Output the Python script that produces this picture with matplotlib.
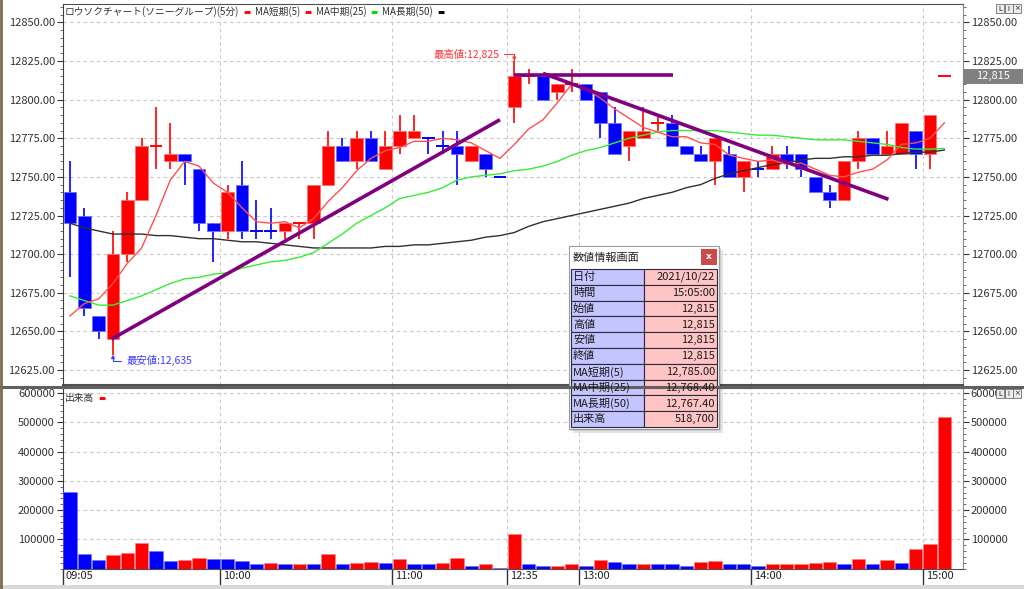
import numpy as np
import matplotlib
matplotlib.use('Agg')
import matplotlib.pyplot as plt
from matplotlib.patches import Rectangle
from matplotlib.ticker import MultipleLocator, FuncFormatter
import matplotlib.transforms as mtransforms

plt.rcParams['font.family'] = ['Noto Sans CJK JP', 'DejaVu Sans']

# ---------------- data ----------------
time_labels = ['09:05', '10:00', '11:00', '12:35', '13:00', '14:00', '15:00']
time_label_idx = [0, 11, 23, 31, 36, 48, 60]

opens = [12740, 12725, 12660, 12645, 12700, 12735, 12770, 12760, 12765, 12755,
         12720, 12715, 12745, 12715, 12715, 12715, 12720, 12720, 12745, 12770,
         12760, 12775, 12755, 12770, 12775, 12775, 12770, 12770, 12760, 12765,
         12750, 12795, 12815, 12815, 12805, 12810, 12810, 12805, 12785, 12770,
         12775, 12785, 12785, 12770, 12765, 12760, 12765, 12750, 12755, 12755,
         12765, 12765, 12750, 12740, 12735, 12760, 12775, 12765, 12765, 12780,
         12765, 12815]
highs = [12760, 12730, 12660, 12715, 12740, 12775, 12795, 12785, 12765, 12755,
         12720, 12745, 12760, 12735, 12730, 12720, 12720, 12745, 12780, 12775,
         12780, 12780, 12780, 12790, 12790, 12775, 12780, 12780, 12770, 12765,
         12750, 12825, 12820, 12815, 12810, 12820, 12810, 12805, 12795, 12780,
         12795, 12790, 12790, 12770, 12770, 12775, 12770, 12760, 12760, 12770,
         12770, 12765, 12750, 12745, 12760, 12780, 12775, 12780, 12785, 12780,
         12790, 12815]
lows = [12685, 12660, 12645, 12635, 12695, 12735, 12755, 12755, 12745, 12715,
        12695, 12710, 12710, 12710, 12710, 12710, 12710, 12710, 12745, 12760,
        12755, 12760, 12755, 12765, 12775, 12765, 12765, 12745, 12760, 12750,
        12750, 12785, 12810, 12800, 12800, 12805, 12800, 12775, 12765, 12760,
        12775, 12780, 12770, 12765, 12760, 12745, 12750, 12740, 12750, 12755,
        12755, 12750, 12740, 12730, 12735, 12755, 12765, 12765, 12765, 12755,
        12755, 12815]
closes = [12720, 12665, 12650, 12700, 12735, 12770, 12770, 12765, 12760, 12720,
          12715, 12740, 12715, 12715, 12715, 12720, 12720, 12745, 12770, 12760,
          12775, 12760, 12770, 12780, 12780, 12775, 12770, 12765, 12770, 12755,
          12750, 12815, 12815, 12800, 12810, 12810, 12800, 12785, 12765, 12780,
          12780, 12785, 12770, 12765, 12760, 12775, 12750, 12760, 12755, 12765,
          12760, 12755, 12740, 12735, 12760, 12775, 12765, 12770, 12785, 12765,
          12790, 12815]
doji_up_idx = [6, 16, 32, 35, 41, 61]

ma5 = [12660, 12668, 12671, 12681, 12694, 12704, 12725, 12748, 12760, 12757,
       12746, 12740, 12730, 12721, 12720, 12721, 12717, 12723, 12734, 12743,
       12754, 12762, 12767, 12769, 12773, 12773, 12775, 12774, 12772, 12767,
       12762, 12771, 12781, 12787, 12798, 12810, 12807, 12801, 12794, 12788,
       12782, 12779, 12776, 12776, 12772, 12771, 12764, 12762, 12760, 12761,
       12758, 12759, 12755, 12751, 12750, 12753, 12755, 12761, 12771, 12772,
       12775, 12785]
ma25 = [12673, 12670, 12667, 12667, 12670, 12673, 12677, 12681, 12684, 12685,
        12687, 12688, 12691, 12693, 12695, 12696, 12698, 12701, 12707, 12713,
        12720, 12725, 12730, 12736, 12738, 12740, 12743, 12748, 12750, 12751,
        12752, 12754, 12755, 12757, 12760, 12764, 12767, 12769, 12772, 12775,
        12777, 12779, 12780, 12780, 12780, 12780, 12779, 12778, 12777, 12777,
        12776, 12775, 12774, 12774, 12774, 12773, 12772, 12771, 12769, 12768,
        12768, 12768.4]
ma50 = [12720, 12717, 12715, 12713, 12713, 12713, 12712, 12712, 12711, 12710,
        12710, 12709, 12708, 12708, 12707, 12706, 12705, 12704, 12704, 12704,
        12704, 12704, 12705, 12705, 12706, 12706, 12707, 12708, 12709, 12711,
        12712, 12714, 12718, 12721, 12723, 12725, 12727, 12729, 12731, 12733,
        12736, 12738, 12740, 12743, 12745, 12749, 12752, 12754, 12756, 12758,
        12759, 12761, 12762, 12762, 12763, 12763, 12764, 12764, 12765, 12766,
        12766, 12767.4]

volumes = [262000, 49000, 28600, 45800, 51600, 87100, 60600, 27000, 27500, 36500,
           31500, 31000, 25000, 15800, 18200, 15500, 16000, 13800, 49200, 15800,
           18200, 21700, 18200, 33000, 15800, 13800, 18200, 35500, 9000, 13800,
           3000, 117000, 15800, 9000, 9500, 13800, 9000, 27500, 21700, 13800,
           15800, 15500, 13800, 9000, 21700, 25000, 15800, 15500, 9000, 13800,
           14000, 15800, 18200, 21700, 15800, 31000, 13800, 27500, 18200, 66400,
           84700, 518700]

trend_up_x = [2.9, 30.0]
trend_up_y = [12645, 12787]
resist_x = [31.0, 42.1]
resist_y = [12816, 12816]
trend_dn_x = [33.0, 57.1]
trend_dn_y = [12817, 12735.5]

legend_items = [('ロウソクチャート(ソニーグループ)(5分)', '#ff0000'),
                ('MA短期(5)', '#ff0000'),
                ('MA中期(25)', '#00dd00'),
                ('MA長期(50)', '#000000')]
vol_legend = [('出来高', '#ff0000')]

info_title = '数値情報画面'
info_labels = ['日付', '時間', '始値', '高値', '安値', '終値',
               'MA短期(5)', 'MA中期(25)', 'MA長期(50)', '出来高']
info_values = ['2021/10/22', '15:05:00', '12,815', '12,815', '12,815', '12,815',
               '12,785.00', '12,768.40', '12,767.40', '518,700']

high_idx, high_val, high_label = 31, 12825, '最高値:12,825'
low_idx, low_val, low_label = 3, 12635, '最安値:12,635'
last_price, last_price_label = 12815, '12,815'

# ---------------- figure ----------------
W, H = 1024, 589
fig = plt.figure(figsize=(W / 100, H / 100), dpi=100)
fig.patch.set_facecolor('white')


def fx(px):
    return px / W


def fy(py):
    return 1 - py / H


L, R = 62.5, 963
ax = fig.add_axes([fx(L), fy(385), fx(R) - fx(L), fy(4) - fy(385)])
axv = fig.add_axes([fx(L), fy(569), fx(R) - fx(L), fy(388) - fy(569)])

RED, BLUE = '#ff0000', '#0000ff'
o = np.array(opens, float)
h = np.array(highs, float)
lo = np.array(lows, float)
c = np.array(closes, float)
n = len(o)
x = np.arange(n)

cols = []
for i in range(n):
    if c[i] > o[i]:
        cols.append(RED)
    elif c[i] < o[i]:
        cols.append(BLUE)
    else:
        cols.append(RED if i in doji_up_idx else BLUE)
cols = np.array(cols)
edge = np.where(cols == RED, '#ff7070', '#7070ff')

XL = (-0.52, 62.3)
for a in (ax, axv):
    a.set_xlim(*XL)
    a.set_facecolor('white')

# grid
grid_kw = dict(color='#c8c8c8', lw=0.8, ls=(0, (3, 3)), zorder=0)
vpos = [i - 0.5 for i in time_label_idx]
for p in vpos[1:]:
    ax.axvline(p, **grid_kw)
    axv.axvline(p, **grid_kw)
for v in np.arange(12625, 12851, 25):
    ax.axhline(v, **grid_kw)
for v in np.arange(100000, 600001, 100000):
    axv.axhline(v, **grid_kw)

# candles
ax.vlines(x, lo, h, colors=cols, lw=1.2, zorder=2)
m = c != o
ax.bar(x[m], np.abs(c - o)[m], bottom=np.minimum(o, c)[m], width=0.88,
       color=cols[m], edgecolor=edge[m], lw=0.6, zorder=3)
d = ~m
ax.hlines(c[d], x[d] - 0.45, x[d] + 0.45, colors=cols[d], lw=1.4, zorder=3)

# moving averages
ax.plot(x, ma50, color='#303030', lw=1.0, zorder=4)
ax.plot(x, ma25, color='#33ee33', lw=1.0, zorder=4)
ax.plot(x, ma5, color='#ff5050', lw=1.0, zorder=4)

# trend lines
for tx, ty in ((trend_up_x, trend_up_y), (resist_x, resist_y), (trend_dn_x, trend_dn_y)):
    ax.plot(tx, ty, color='#800080', lw=2.6, solid_capstyle='butt', zorder=5)

ax.set_ylim(12615.3, 12861.9)
ax.set_yticks(np.arange(12625, 12851, 25))
ax.yaxis.set_minor_locator(MultipleLocator(5))
ax.yaxis.set_major_formatter(FuncFormatter(lambda v, p: f'{v:.2f}'))
ax.set_xticks([])

# annotations
ax.annotate(high_label, xy=(high_idx, high_val), xytext=(-11, 4.8),
            textcoords='offset points', ha='right', va='center', fontsize=7.5,
            color='#ff3333', zorder=6,
            arrowprops=dict(arrowstyle='-|>', color='#ff3333', lw=0.8,
                            mutation_scale=5, shrinkA=1.5, shrinkB=0,
                            relpos=(1, 0.5),
                            connectionstyle='angle,angleA=0,angleB=90,rad=0'))
ax.annotate(low_label, xy=(low_idx, low_val), xytext=(9.4, -4.5),
            textcoords='offset points', ha='left', va='center', fontsize=7.5,
            color='#3c3cff', zorder=6,
            arrowprops=dict(arrowstyle='-|>', color='#3c3cff', lw=0.8,
                            mutation_scale=5, shrinkA=1.5, shrinkB=0,
                            relpos=(0, 0.5),
                            connectionstyle='angle,angleA=0,angleB=90,rad=0'))

# last price tag on right axis
bt = mtransforms.blended_transform_factory(ax.transAxes, ax.transData)
ax.add_patch(Rectangle((1.0, last_price - 4.6), 60 / (R - L), 9.2, transform=bt,
                       facecolor='#808080', edgecolor='none', clip_on=False, zorder=6))
ax.text(1.0 + 30 / (R - L), last_price, last_price_label, transform=bt, ha='center',
        va='center', fontsize=8, color='white', clip_on=False, zorder=7)

# volume
vol = np.array(volumes, float)
vcols = [BLUE] + [RED if vol[i] > vol[i - 1] else BLUE for i in range(1, n)]
vedge = ['#7070ff' if cc == BLUE else '#ff8080' for cc in vcols]
axv.bar(x, vol, width=0.93, color=vcols, edgecolor=vedge, lw=0.4, zorder=3)
axv.set_ylim(-1700, 618000)
axv.set_yticks(np.arange(100000, 600001, 100000))
axv.yaxis.set_minor_locator(MultipleLocator(20000))
axv.yaxis.set_major_formatter(FuncFormatter(lambda v, p: f'{int(v)}'))
axv.set_xticks(vpos)
axv.set_xticklabels([''] * len(vpos))
axv.tick_params(axis='x', length=11.5, width=1, direction='out', color='#333333')
for lbl, p in zip(time_labels, vpos):
    axv.annotate(lbl, xy=(p, 0), xycoords=('data', 'axes fraction'), xytext=(2.2, -1.5),
                 textcoords='offset points', ha='left', va='top', fontsize=8,
                 color='#222222', annotation_clip=False)

for a in (ax, axv):
    a.tick_params(axis='y', which='major', length=4, width=0.8, direction='out',
                  left=True, right=True, labelleft=True, labelright=True,
                  labelsize=8, labelcolor='#333333', color='#333333', pad=1.5)
    a.tick_params(axis='y', which='minor', length=2, width=0.6, direction='out',
                  left=True, right=True, color='#555555')
    a.spines['left'].set_color('#404040')
    a.spines['right'].set_color('#8a8a8a')
    a.spines['top'].set_color('#505050')
    a.spines['bottom'].set_color('#505050')
ax.spines['bottom'].set_linewidth(1.5)
axv.spines['top'].set_linewidth(1.5)

# ---------------- overlay (pixel coordinates) ----------------
axo = fig.add_axes([0, 0, 1, 1], zorder=10)
axo.set_xlim(0, W)
axo.set_ylim(H, 0)
axo.axis('off')
axo.patch.set_alpha(0)

axo.plot([0, W], [386.5, 386.5], color='#606060', lw=2.2)
axo.add_patch(Rectangle((0, 585), W, 4, facecolor='#d8d8d8', edgecolor='none'))
axo.plot([1, 1], [0, H], color='#7b6b4b', lw=2)


def chain_legend(x0, y0, items, fs):
    prev = None
    for k, (label, col) in enumerate(items):
        if prev is None:
            prev = axo.text(x0, y0, label, fontsize=fs, color='#333333', ha='left', va='center')
        else:
            prev = axo.annotate(label, xy=(1, 0.5), xycoords=prev, xytext=(3, 0),
                                textcoords='offset points', ha='left', va='center',
                                fontsize=fs, color='#333333')
        prev = axo.annotate('▬', xy=(1, 0.5), xycoords=prev, xytext=(3, 0),
                            textcoords='offset points', ha='left', va='center',
                            fontsize=fs - 1.5, color=col, family=['DejaVu Sans'])


chain_legend(65, 12, legend_items, 7)
chain_legend(65, 398, vol_legend, 7)

# L I x buttons
for yb in (4, 389):
    for k, s in enumerate(['L', 'I', '×']):
        bx = 996 + k * 8.5
        axo.add_patch(Rectangle((bx, yb), 8, 9, facecolor='#ececec', edgecolor='#707070', lw=0.6))
        axo.text(bx + 4, yb + 4.6, s, fontsize=5, ha='center', va='center', color='#202020',
                 family=['DejaVu Sans'])

# info window
bx0, by0, bw, bh = 569, 246, 150, 183
axo.add_patch(Rectangle((bx0 + 4, by0 + 4), bw, bh, facecolor='black', alpha=0.10, edgecolor='none'))
axo.add_patch(Rectangle((bx0 + 2, by0 + 2), bw, bh, facecolor='black', alpha=0.10, edgecolor='none'))
axo.add_patch(Rectangle((bx0, by0), bw, bh, facecolor='#f4f4f4', edgecolor='#9a9a9a', lw=0.8))
axo.add_patch(Rectangle((bx0 + 1, by0 + 1), bw - 2, 22, facecolor='white', edgecolor='none'))
axo.text(bx0 + 4, by0 + 12, info_title, fontsize=8, ha='left', va='center', color='#202020')
axo.add_patch(Rectangle((701, 249), 16, 16, facecolor='#c94c4c', edgecolor='none'))
axo.text(709, 256.5, 'x', fontsize=6.5, ha='center', va='center', color='white',
         fontweight='bold', family=['DejaVu Sans'])
top, rh = 269, 15.8
x_l, x_m, x_r = 571, 644, 717
for k, (lab, val) in enumerate(zip(info_labels, info_values)):
    yk = top + k * rh
    axo.add_patch(Rectangle((x_l, yk), x_m - x_l, rh, facecolor='#c4c4ff', edgecolor='#2a2a40', lw=0.8))
    axo.add_patch(Rectangle((x_m, yk), x_r - x_m, rh, facecolor='#ffc4c4', edgecolor='#2a2a40', lw=0.8))
    axo.text(x_l + 2, yk + rh / 2 + 0.3, lab, fontsize=8, ha='left', va='center', color='#1a1a1a')
    axo.text(x_r - 2, yk + rh / 2 + 0.3, val, fontsize=8, ha='right', va='center', color='#1a1a1a')

fig.savefig('out.png', dpi=100)
